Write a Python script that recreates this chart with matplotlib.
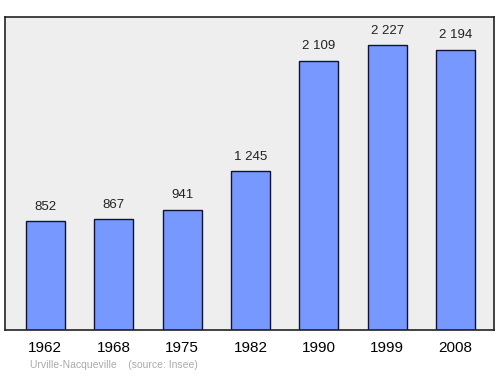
import matplotlib
matplotlib.use("Agg")
import matplotlib.pyplot as plt

years = ["1962", "1968", "1975", "1982", "1990", "1999", "2008"]
population = [852, 867, 941, 1245, 2109, 2227, 2194]
value_labels = ["852", "867", "941", "1 245", "2 109", "2 227", "2 194"]

plt.rcParams['font.family'] = ['Liberation Sans', 'DejaVu Sans']

fig = plt.figure(figsize=(5.0, 3.74), dpi=100)
ax = fig.add_axes([5/500, 1-330/374, 489/500, 313/374])
ax.set_facecolor("#eeeeee")
x = list(range(len(years)))
ax.bar(x, population, width=0.57, color="#7799ff", edgecolor="#111133", linewidth=1.0, zorder=2)
for xi, v, lab in zip(x, population, value_labels):
    ax.annotate(lab, (xi, v), xytext=(0, 6), textcoords="offset points",
                ha="center", va="bottom", fontsize=9.5, color="#222222")
ax.set_xlim(-0.59, 6.56)
ax.set_ylim(0, 2450)
ax.set_yticks([])
ax.set_xticks(x)
ax.set_xticklabels(years, fontsize=11)
ax.tick_params(axis="x", length=0, pad=8)
for s in ax.spines.values():
    s.set_color("#222222")
    s.set_linewidth(1.2)
fig.text(30/500, 1-365/374, "Urville-Nacqueville    (source: Insee)", fontsize=7.5,
         color="#aaaaaa", va="center", ha="left")
fig.savefig("out.png", dpi=100)
